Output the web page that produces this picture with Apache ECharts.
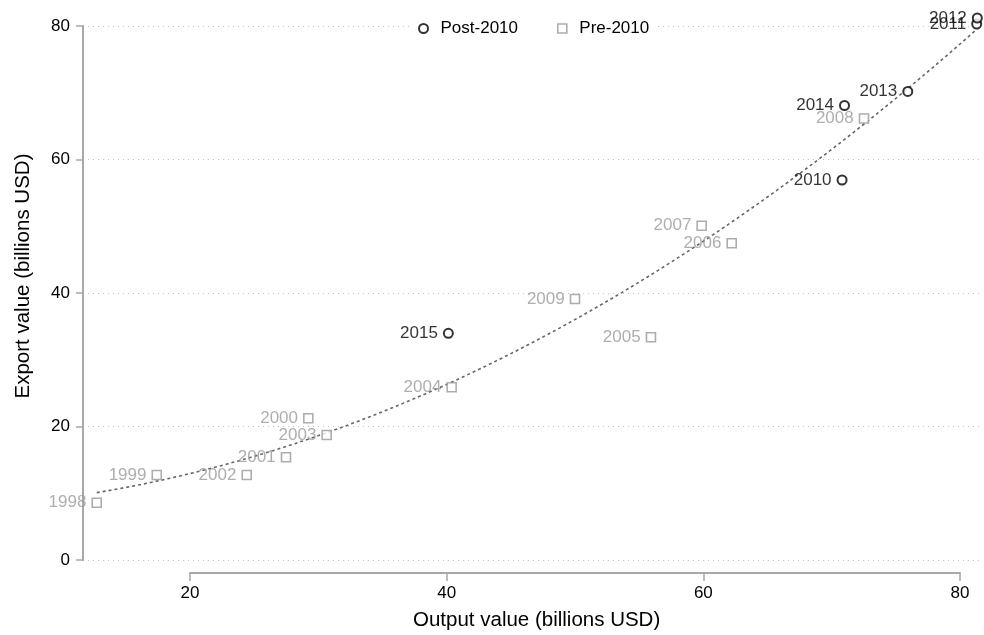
<!DOCTYPE html>
<html>
<head>
<meta charset="utf-8">
<script src="https://cdn.jsdelivr.net/npm/echarts@6/dist/echarts.min.js"></script>
<style>
  html, body { margin: 0; padding: 0; background: #fff; }
  #chart { width: 984px; height: 635px; }
</style>
</head>
<body>
<div id="chart"></div>
<script>
// Output and export values, billions USD
const preYears   = ['1998','1999','2000','2001','2002','2003','2004','2005','2006','2007','2008','2009'];
const preOutput  = [12.73, 17.41, 29.22, 27.48, 24.42, 30.65, 40.39, 55.92, 62.21, 59.87, 72.52, 50.00];
const preExport  = [ 8.58, 12.73, 21.23, 15.39, 12.73, 18.73, 25.87, 33.36, 47.45, 50.08, 66.14, 39.10];

const postYears  = ['2010','2011','2012','2013','2014','2015'];
const postOutput = [70.81, 81.30, 81.35, 75.93, 71.00, 40.13];
const postExport = [56.93, 80.30, 81.20, 70.19, 68.09, 33.96];

const xTicks = [20, 40, 60, 80];
const yTicks = [0, 20, 40, 60, 80];

const FONT = '"Liberation Sans", Arial, Helvetica, sans-serif';

// Quadratic least-squares fit of export on output over all years
function quadFit(xs, ys) {
  let s = [0,0,0,0,0], t = [0,0,0];
  for (let i = 0; i < xs.length; i++) {
    const x = xs[i], y = ys[i];
    let p = 1;
    for (let k = 0; k < 5; k++) { s[k] += p; p *= x; }
    t[0] += y; t[1] += y * x; t[2] += y * x * x;
  }
  const A = [[s[0], s[1], s[2], t[0]], [s[1], s[2], s[3], t[1]], [s[2], s[3], s[4], t[2]]];
  for (let c = 0; c < 3; c++) {
    for (let r = c + 1; r < 3; r++) {
      const f = A[r][c] / A[c][c];
      for (let k = c; k < 4; k++) A[r][k] -= f * A[c][k];
    }
  }
  const b = [0,0,0];
  for (let r = 2; r >= 0; r--) {
    let v = A[r][3];
    for (let k = r + 1; k < 3; k++) v -= A[r][k] * b[k];
    b[r] = v / A[r][r];
  }
  return b;
}

const allX = preOutput.concat(postOutput);
const allY = preExport.concat(postExport);
const coef = quadFit(allX, allY);
const xLo = Math.min(...allX), xHi = Math.max(...allX);
const fitLine = [];
for (let i = 0; i <= 80; i++) {
  const x = xLo + (xHi - xLo) * i / 80;
  fitLine.push([x, coef[0] + coef[1] * x + coef[2] * x * x]);
}

const preData  = preOutput.map((v, i) => [v, preExport[i], preYears[i]]);
const postData = postOutput.map((v, i) => [v, postExport[i], postYears[i]]);

// Plot area spans a bit beyond the 20–80 tick range on the x side
const GRID_LEFT = 83, GRID_TOP = 26, GRID_W = 898, GRID_H = 534;
const AX_LEFT = 190, AX_W = 770;
const pxPerUnit = AX_W / (xTicks[xTicks.length - 1] - xTicks[0]);
const xMin = xTicks[0] - (AX_LEFT - GRID_LEFT) / pxPerUnit;
const xMax = xTicks[0] + (GRID_LEFT + GRID_W - AX_LEFT) / pxPerUnit;

const SQUARE = 'path://M0,0L10,0L10,10L0,10Z';

const chart = echarts.init(document.getElementById('chart'), null, { renderer: 'canvas' });

chart.setOption({
  backgroundColor: '#fff',
  animation: false,
  textStyle: { fontFamily: FONT },
  grid: [
    { left: GRID_LEFT, top: GRID_TOP, width: GRID_W, height: GRID_H },
    { left: AX_LEFT, top: 572, width: AX_W, height: 1 }
  ],
  xAxis: [
    { type: 'value', gridIndex: 0, min: xMin, max: xMax, show: false },
    {
      type: 'value', gridIndex: 1, min: xTicks[0], max: xTicks[xTicks.length - 1], interval: 20,
      position: 'bottom',
      axisLine: { show: true, lineStyle: { color: '#a8a8a8', width: 2 } },
      axisTick: { show: true, length: 8, lineStyle: { color: '#a8a8a8', width: 1.5 } },
      axisLabel: { show: true, color: '#000', fontSize: 17, fontFamily: FONT, margin: 12 },
      splitLine: { show: false }
    }
  ],
  yAxis: [
    {
      type: 'value', gridIndex: 0, min: yTicks[0], max: yTicks[yTicks.length - 1], interval: 20,
      axisLine: { show: true, lineStyle: { color: '#a8a8a8', width: 2 } },
      axisTick: { show: true, length: 7, lineStyle: { color: '#a8a8a8', width: 1.5 } },
      axisLabel: { color: '#000', fontSize: 17, fontFamily: FONT, margin: 13 },
      splitLine: { show: true, lineStyle: { color: '#c4c4c4', width: 1, type: [1, 4] } }
    },
    { type: 'value', gridIndex: 1, show: false, min: 0, max: 1 }
  ],
  legend: {
    data: [
      { name: 'Post-2010', icon: 'circle', itemStyle: { color: '#fff', borderColor: '#000', borderWidth: 2 } },
      { name: 'Pre-2010', icon: SQUARE, itemStyle: { color: '#fff', borderColor: '#999', borderWidth: 1.6 } }
    ],
    left: 410,
    top: 18,
    itemWidth: 24,
    itemHeight: 9,
    itemGap: 39,
    symbolKeepAspect: true,
    padding: [2, 8],
    backgroundColor: '#fff',
    textStyle: { color: '#000', fontSize: 17, fontFamily: FONT }
  },
  graphic: [
    {
      type: 'text', left: 413, top: 610,
      style: { text: 'Output value (billions USD)', font: '20.5px ' + FONT, fill: '#000' }
    },
    {
      type: 'text', x: 13, y: 276, rotation: Math.PI / 2,
      style: { text: 'Export value (billions USD)', font: '20.5px ' + FONT, fill: '#000', align: 'center', verticalAlign: 'top' }
    }
  ],
  series: [
    {
      name: 'Fit',
      type: 'line',
      xAxisIndex: 0, yAxisIndex: 0,
      data: fitLine,
      showSymbol: false,
      clip: false,
      silent: true,
      z: 1,
      lineStyle: { color: '#666', width: 1.6, type: [3, 3] }
    },
    {
      name: 'Pre-2010',
      type: 'scatter',
      xAxisIndex: 0, yAxisIndex: 0,
      data: preData,
      symbol: 'rect',
      symbolSize: 9,
      clip: false,
      z: 3,
      itemStyle: { color: '#fff', borderColor: '#999', borderWidth: 1.6 },
      label: {
        show: true, position: 'left', distance: 5,
        formatter: p => p.data[2],
        color: '#9a9a9a', fontSize: 17, fontFamily: FONT
      }
    },
    {
      name: 'Post-2010',
      type: 'scatter',
      xAxisIndex: 0, yAxisIndex: 0,
      data: postData,
      symbol: 'circle',
      symbolSize: 9,
      clip: false,
      z: 4,
      itemStyle: { color: '#fff', borderColor: '#000', borderWidth: 2 },
      label: {
        show: true, position: 'left', distance: 5,
        formatter: p => p.data[2],
        color: '#000', fontSize: 17, fontFamily: FONT
      }
    }
  ]
});
</script>
</body>
</html>
